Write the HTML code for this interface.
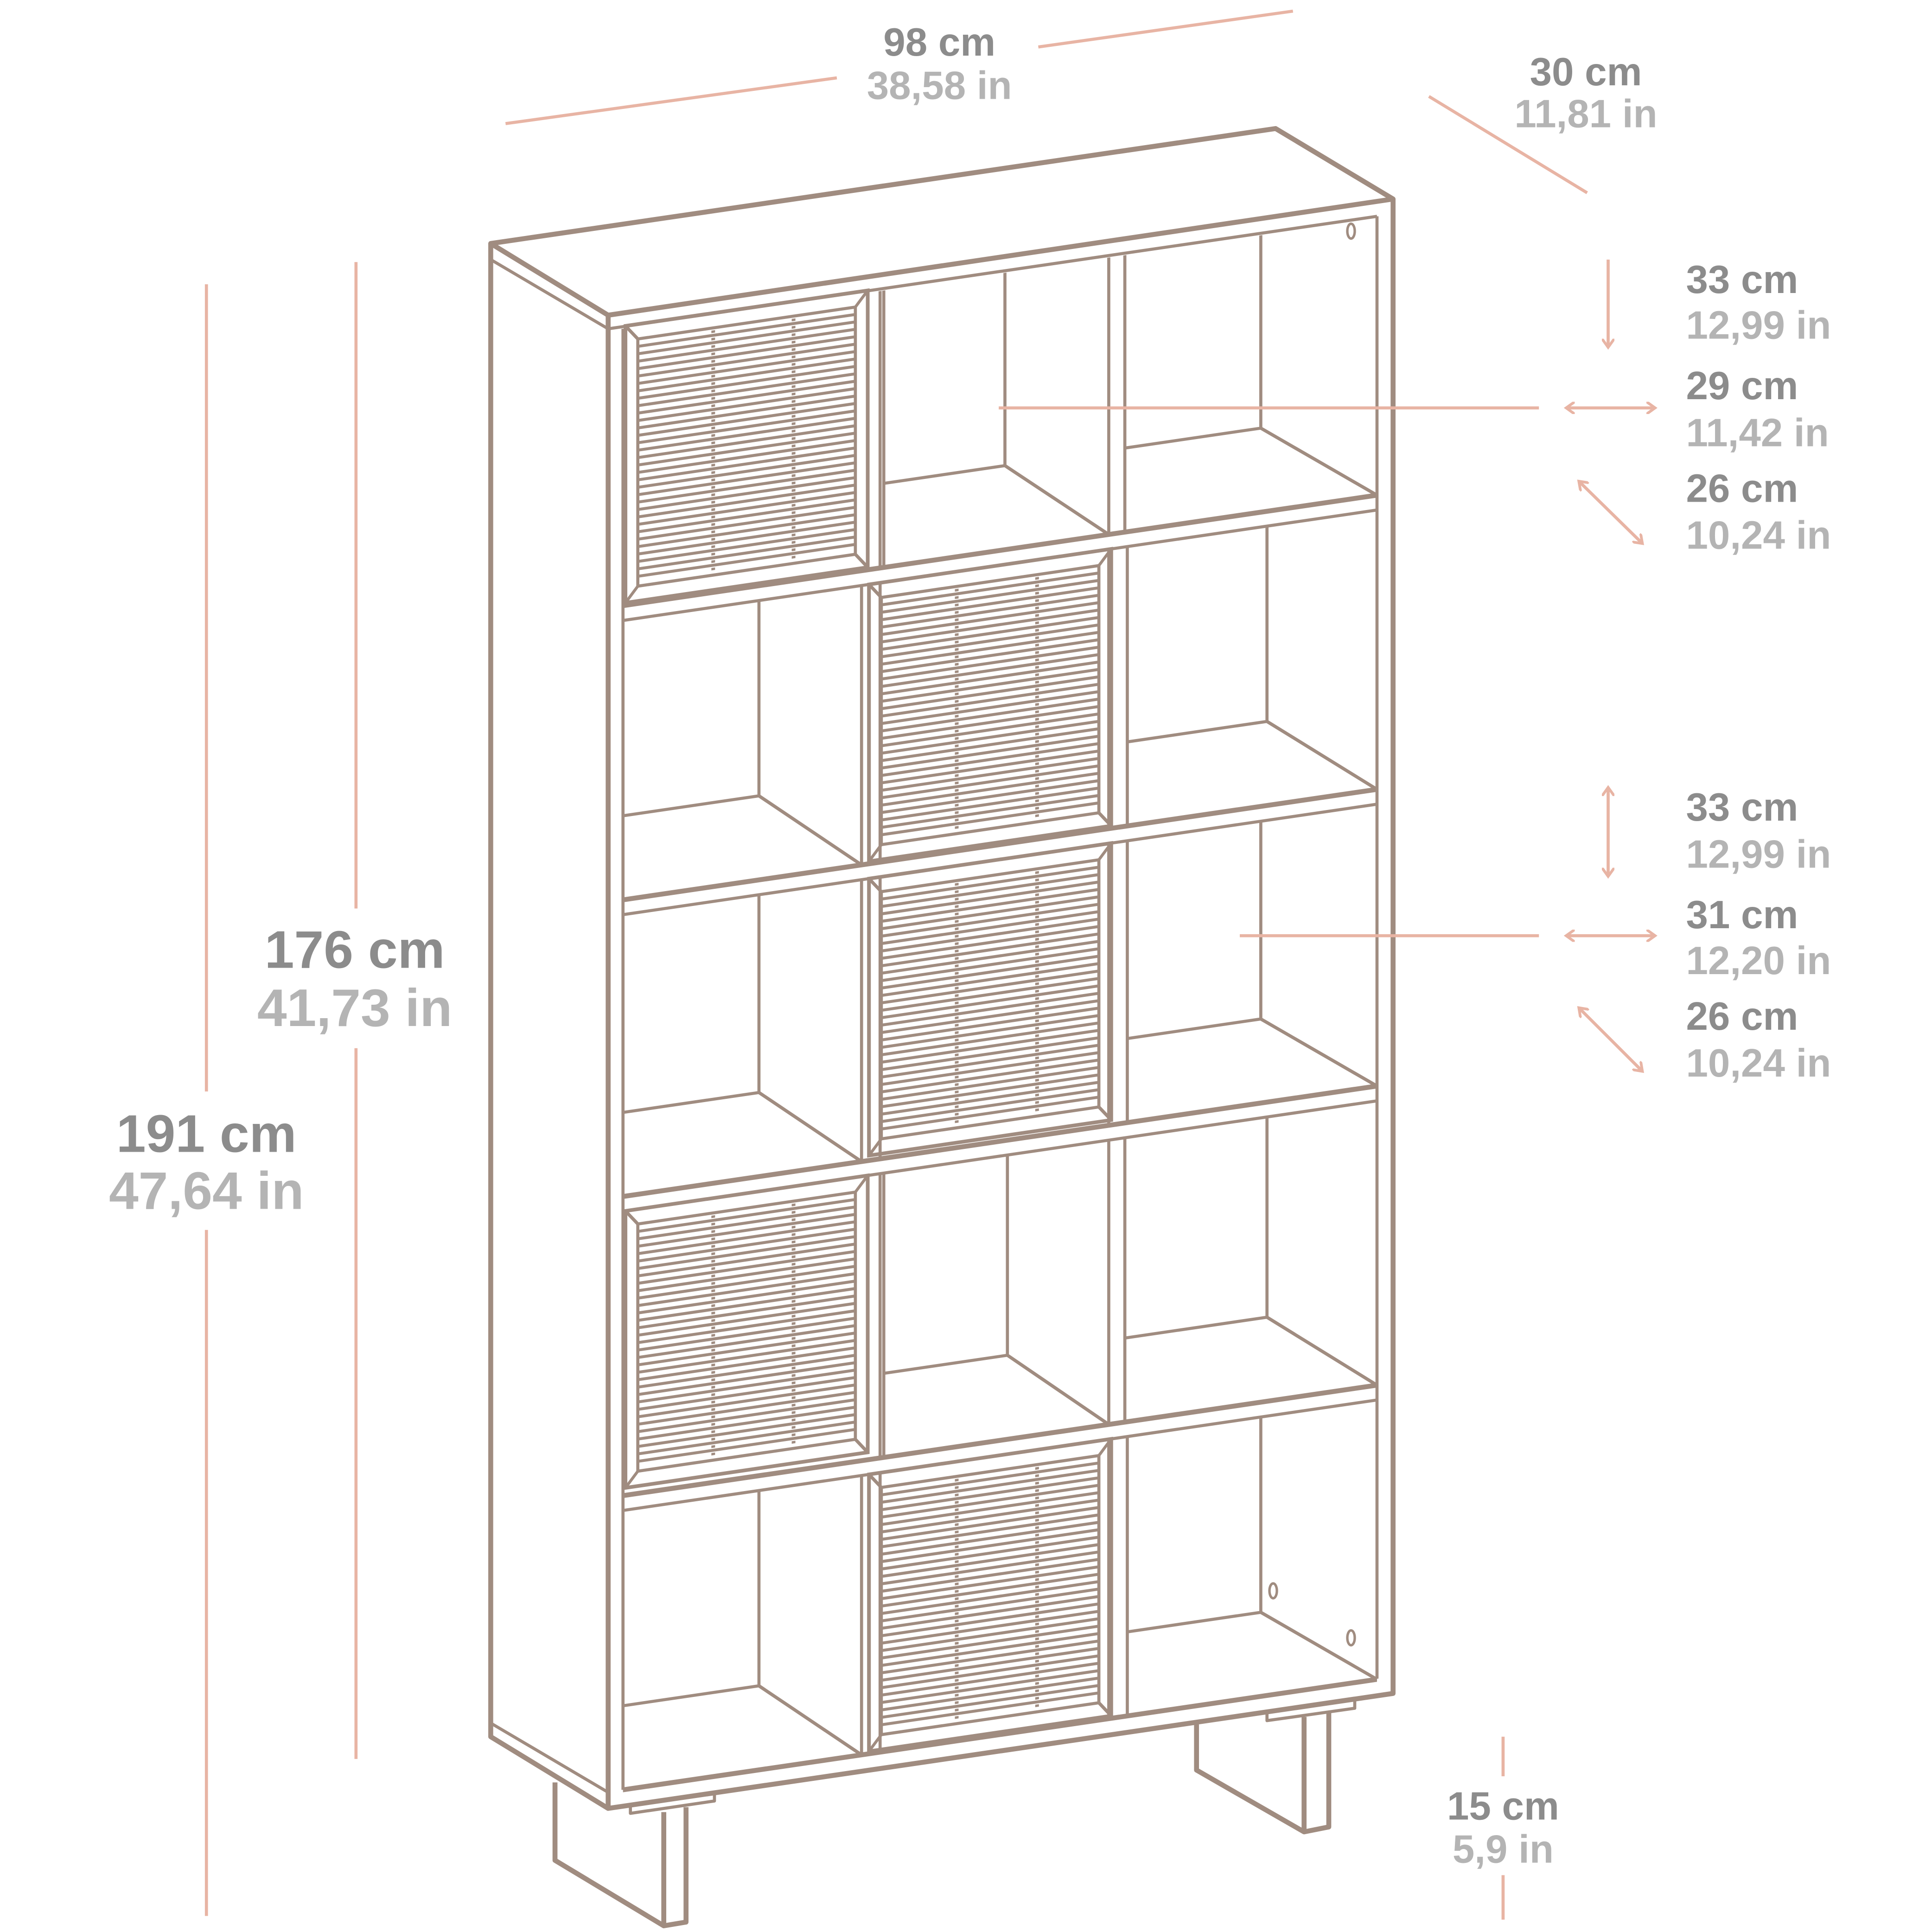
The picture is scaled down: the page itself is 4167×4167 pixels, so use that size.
<!DOCTYPE html>
<html><head><meta charset="utf-8"><style>
html,body{margin:0;padding:0;background:#fff}
svg{display:block}
</style></head><body>
<svg width="4167" height="4167" viewBox="0 0 1563 1563" xmlns="http://www.w3.org/2000/svg" font-family="Liberation Sans, sans-serif" font-weight="bold">
<defs>
<marker id="ah" markerWidth="10" markerHeight="10" refX="6" refY="5" orient="auto-start-reverse" markerUnits="userSpaceOnUse">
<path d="M0,0 L7,5 L0,10" fill="none" stroke="#e8b4a4" stroke-width="2.2"/>
</marker>
<g id="door">
<rect x="0" y="0" width="196" height="224" fill="none" stroke="#a08c80" stroke-width="3"/>
<rect x="10" y="12" width="176" height="200" fill="none" stroke="#a08c80" stroke-width="2.5"/>
<path d="M0,0 L10,12 M196,0 L186,12 M0,224 L10,212 M196,224 L186,212" stroke="#a08c80" stroke-width="2.5"/>
<g stroke="#a08c80" stroke-width="2.4">
<path d="M10,18H186M10,24H186M10,30H186M10,36H186M10,42H186M10,48H186M10,54H186M10,60H186M10,66H186M10,72H186M10,78H186M10,84H186M10,90H186M10,96H186M10,102H186M10,108H186M10,114H186M10,120H186M10,126H186M10,132H186M10,138H186M10,144H186M10,150H186M10,156H186M10,162H186M10,168H186M10,174H186M10,180H186M10,186H186M10,192H186M10,198H186M10,204H186"/>
</g>
<g stroke="#a08c80" stroke-width="3"><path d="M71,14V210M136,14V210" stroke-dasharray="2 4"/></g>
</g>
</defs>

<g fill="none" stroke="#a08c80" stroke-linejoin="round">
<path d="M397,197 L1032,104 L1127,161 L492,255 Z" stroke-width="4"/>
<path d="M397,197 L397,1405 L492,1463 L1127,1370 L1127,161" stroke-width="4"/>
<path d="M492,255 L492,1463" stroke-width="4"/>
<path d="M397,210 L492,266 L1114,175" stroke-width="2.5"/>
<path d="M397,1394 L492,1450" stroke-width="2.5"/>
<path d="M1114,175 L1114,1358" stroke-width="2.5"/>
<path d="M504,266 L504,1448" stroke-width="2.5"/>
<path d="M449,1442 L449,1505 L537,1558 L555,1555 L555,1462 M537,1466 L537,1558" stroke-width="4"/>
<path d="M510,1460 L510,1467 L578,1457 L578,1452" stroke-width="2.5"/>
<path d="M968,1395 L968,1432 L1055,1482 L1075,1478 L1075,1385 M1055,1389 L1055,1482" stroke-width="4"/>
<path d="M1025,1385 L1025,1392 L1096,1382 L1096,1376" stroke-width="2.5"/>
<ellipse cx="1093" cy="187" rx="3" ry="6" stroke-width="2"/>
<ellipse cx="1030" cy="1287" rx="3" ry="6" stroke-width="2"/>
<ellipse cx="1093" cy="1325" rx="3" ry="6" stroke-width="2"/>
</g>

<g transform="matrix(1,-0.1465,0,1,0,73.8)" fill="none" stroke="#a08c80">
<g stroke-width="4">
<path d="M504,490H1114M504,728H1114M504,968H1114M504,1210H1114M504,1448H1114"/>
</g>
<g stroke-width="2.5">
<path d="M504,502H1114M504,740H1114M504,980H1114M504,1222H1114"/>
<path d="M712,266V490M715,266V490M897,266V490M910,266V490"/>
<path d="M697,502V728M712,502V728M897,502V728M912,502V728"/>
<path d="M697,740V968M712,740V968M897,740V968M912,740V968"/>
<path d="M712,980V1210M715,980V1210M897,980V1210M910,980V1210"/>
<path d="M697,1222V1448M712,1222V1448M897,1222V1448M912,1222V1448"/>
<path d="M813,266V422 M715,422H813 L897,490"/>
<path d="M1020,266V422 M910,422H1020 L1114,490"/>
<path d="M614,502V660 M504,660H614 L697,728"/>
<path d="M1025,502V660 M912,660H1025 L1114,728"/>
<path d="M614,740V900 M504,900H614 L697,968"/>
<path d="M1020,740V900 M912,900H1020 L1114,968"/>
<path d="M815,980V1142 M715,1142H815 L897,1210"/>
<path d="M1025,980V1142 M910,1142H1025 L1114,1210"/>
<path d="M614,1222V1380 M504,1380H614 L697,1448"/>
<path d="M1020,1222V1380 M912,1380H1020 L1114,1448"/>
</g>
<use href="#door" x="506" y="264"/>
<use href="#door" x="703" y="502"/>
<use href="#door" x="703" y="740"/>
<use href="#door" x="506" y="980"/>
<use href="#door" x="703" y="1222"/>
</g>

<g stroke="#e8b4a4" stroke-width="2.5" fill="none">
<path d="M409,100 L677,63 M840,38 L1046,9"/>
<path d="M1156,78 L1284,156"/>
<path d="M167,230V883 M167,995V1550"/>
<path d="M288,212V735 M288,848V1423"/>
<path d="M808,330H1245 M1003,757H1245"/>
<path d="M1216,1405V1437 M1216,1517V1553"/>
<path d="M1301,210V280" marker-end="url(#ah)"/>
<path d="M1268,330H1338" marker-start="url(#ah)" marker-end="url(#ah)"/>
<path d="M1278,390L1328,439" marker-start="url(#ah)" marker-end="url(#ah)"/>
<path d="M1301,638V708" marker-start="url(#ah)" marker-end="url(#ah)"/>
<path d="M1268,757H1338" marker-start="url(#ah)" marker-end="url(#ah)"/>
<path d="M1278,816L1328,866" marker-start="url(#ah)" marker-end="url(#ah)"/>
</g>

<g font-size="32" text-anchor="middle">
<text x="760" y="45" fill="#8c8c8c">98 cm</text>
<text x="760" y="80" fill="#b4b4b4">38,58 in</text>
<text x="1283" y="69" fill="#8c8c8c">30 cm</text>
<text x="1283" y="103" fill="#b4b4b4">11,81 in</text>
<text x="1216" y="1472" fill="#8c8c8c">15 cm</text>
<text x="1216" y="1507" fill="#b4b4b4">5,9 in</text>
</g>
<g font-size="32" text-anchor="start">
<text x="1364" y="237" fill="#8c8c8c">33 cm</text>
<text x="1364" y="274" fill="#b4b4b4">12,99 in</text>
<text x="1364" y="323" fill="#8c8c8c">29 cm</text>
<text x="1364" y="361" fill="#b4b4b4">11,42 in</text>
<text x="1364" y="406" fill="#8c8c8c">26 cm</text>
<text x="1364" y="444" fill="#b4b4b4">10,24 in</text>
<text x="1364" y="664" fill="#8c8c8c">33 cm</text>
<text x="1364" y="702" fill="#b4b4b4">12,99 in</text>
<text x="1364" y="751" fill="#8c8c8c">31 cm</text>
<text x="1364" y="788" fill="#b4b4b4">12,20 in</text>
<text x="1364" y="833" fill="#8c8c8c">26 cm</text>
<text x="1364" y="871" fill="#b4b4b4">10,24 in</text>
</g>
<g font-size="43" text-anchor="middle">
<text x="287" y="783" fill="#8c8c8c">176 cm</text>
<text x="287" y="830" fill="#b4b4b4">41,73 in</text>
<text x="167" y="932" fill="#8c8c8c">191 cm</text>
<text x="167" y="978" fill="#b4b4b4">47,64 in</text>
</g>
</svg>
</body></html>
